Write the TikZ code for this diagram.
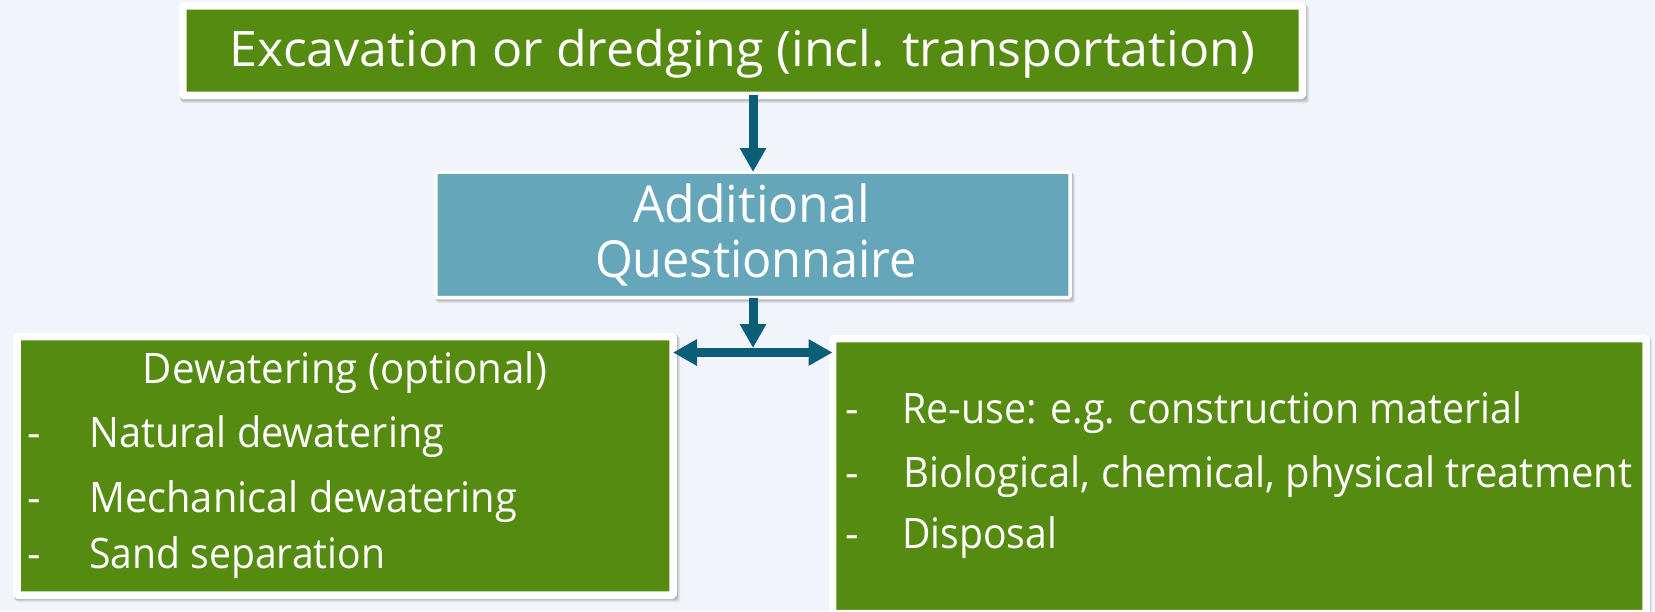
\documentclass[tikz,border=0pt]{standalone}
\usepackage{fontspec}
\usepackage{graphicx}
\setmainfont{Open Sans}
\usetikzlibrary{arrows.meta}
\definecolor{bg}{HTML}{F1F4FA}
\definecolor{grn}{HTML}{558B11}
\definecolor{blu}{HTML}{66A6BA}
\definecolor{arr}{HTML}{0B5E78}
\newcommand{\fw}[2]{\resizebox{#1}{\height}{#2}}
\tikzset{
  box/.style={draw=white, inner sep=0pt, outer sep=0pt, rounded corners=1.5pt, anchor=north west},
  gbox/.style={box, fill=grn, line width=7.5pt},
  bbox/.style={box, fill=blu, line width=3.5pt},
  bigtxt/.style={text=white, font=\fontsize{49}{52}\selectfont, inner sep=0pt, anchor=base},
  midtxt/.style={text=white, font=\fontsize{51}{54}\selectfont, inner sep=0pt, anchor=base},
  listtxt/.style={text=white, font=\fontsize{42}{46}\selectfont, inner sep=0pt, anchor=base west},
  ctxt/.style={listtxt, anchor=base},
  conn/.style={draw=arr, line width=9pt, -{Triangle[width=25pt,length=24pt]}},
  conn2/.style={draw=arr, line width=9pt, {Triangle[width=25pt,length=24pt]}-{Triangle[width=25pt,length=24pt]}},
}
\newcommand{\shadowbox}[4]{%
  \foreach \o/\a in {4/0.06,3/0.08,2/0.10}{\fill[black,opacity=\a,rounded corners=2pt] (#1+\o-1,#2+\o) rectangle (#3+\o-1,#4+\o);}}
\begin{document}
\begin{tikzpicture}[x=1pt,y=-1pt]
\fill[bg] (0,0) rectangle (1655,611);
\useasboundingbox (0,0) rectangle (1655,611);
% shadows
\shadowbox{179}{2}{1306}{99}
\shadowbox{434}{170}{1072}{299}
\shadowbox{13}{333}{677}{598}
\shadowbox{828}{335}{1649}{613}
% boxes
\node[gbox, minimum width=1119.5pt, minimum height=89.5pt] (top) at (182.75,5.75) {};
\node[bbox, minimum width=634.25pt, minimum height=125.5pt] (mid) at (435.75,172) {};
\node[gbox, minimum width=656pt, minimum height=258.5pt] (left) at (17,336.5) {};
\node[gbox, minimum width=813.5pt, minimum height=275pt] (right) at (832.5,338.5) {};
% texts
\node[bigtxt] (t1) at (742.5,66) {\fw{1025pt}{Excavation or dredging (incl. transportation)}};
\node[midtxt] (m1) at (751.5,222) {\fw{237pt}{Additional}};
\node[midtxt] (m2) at (756,277) {\fw{322pt}{Questionnaire}};
\node[ctxt] (l0) at (345,383) {\fw{404pt}{Dewatering (optional)}};
\node[listtxt] (ld1) at (27,447) {-};
\node[listtxt] (l1) at (89,447) {\fw{355pt}{Natural dewatering}};
\node[listtxt] (ld2) at (27,512) {-};
\node[listtxt] (l2) at (89,512) {\fw{428pt}{Mechanical dewatering}};
\node[listtxt] (ld3) at (27,568) {-};
\node[listtxt] (l3) at (89,568) {\fw{296pt}{Sand separation}};
\node[listtxt] (rd1) at (845,423) {-};
\node[listtxt] (r1) at (902,423) {\fw{620pt}{Re-use: e.g. construction material}};
\node[listtxt] (rd2) at (845,487) {-};
\node[listtxt] (r2) at (903,487) {\fw{729pt}{Biological, chemical, physical treatment}};
\node[listtxt] (rd3) at (845,548) {-};
\node[listtxt] (r3) at (902,548) {\fw{155pt}{Disposal}};
% connectors
\coordinate (jt) at (753,348);
\coordinate (jh) at (753,352.5);
\draw[conn] (top.south -| jt) -- (mid.north -| jt);
\draw[conn] (mid.south -| jt) -- (jt);
\draw[conn2] (left.east |- jh) -- (right.west |- jh);
\end{tikzpicture}
\end{document}
